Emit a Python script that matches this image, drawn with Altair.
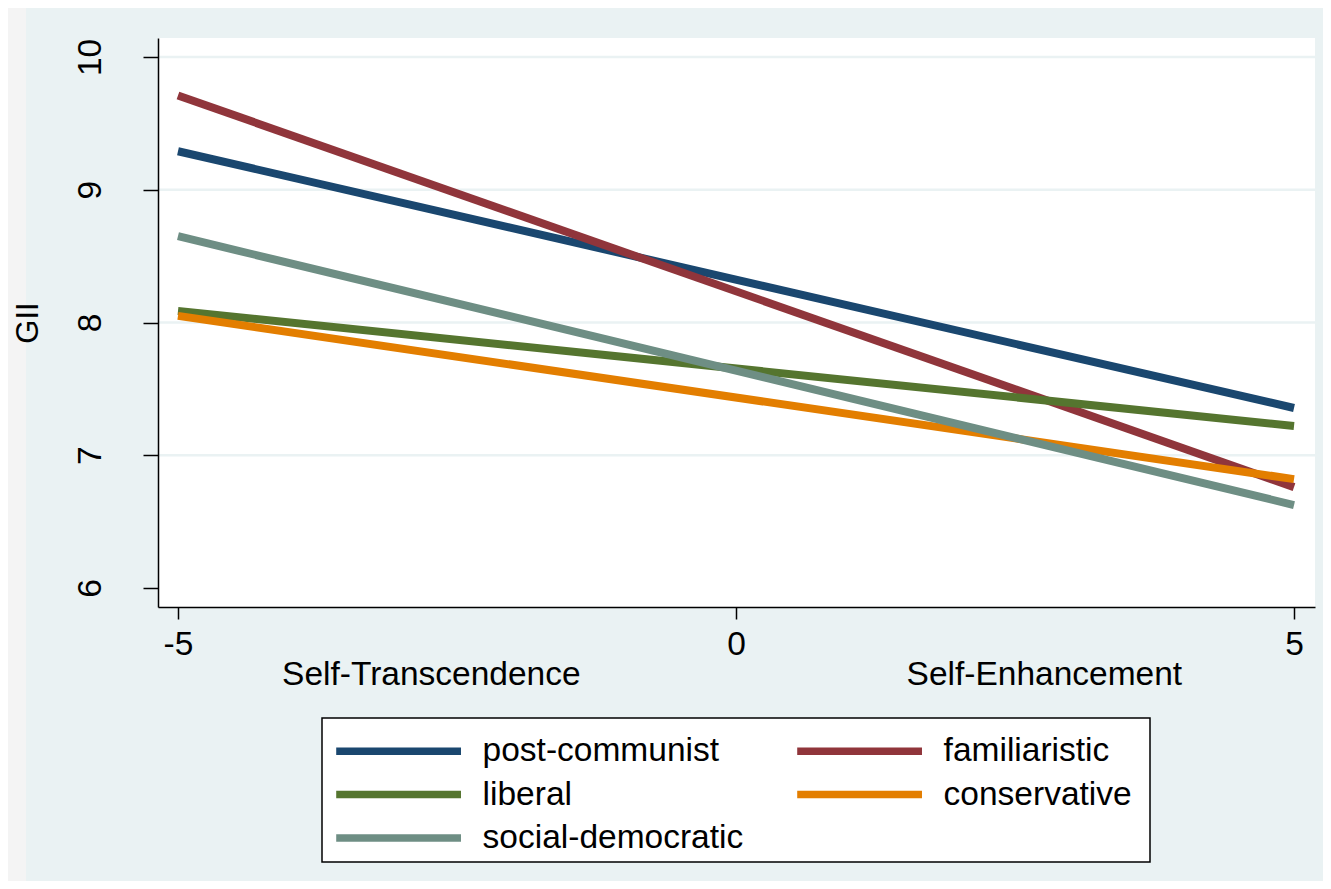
import altair as alt
import pandas as pd

# ---- data ----
series = ["post-communist", "familiaristic", "liberal", "conservative", "social-democratic"]
colors = ["#1a476f", "#90353b", "#55752f", "#e37e00", "#6e8e84"]
x_vals = [-5, 5]
y_post_communist = [9.29, 7.356]
y_familiaristic = [9.71, 6.76]
y_liberal = [8.087, 7.22]
y_conservative = [8.05, 6.82]
y_social_democratic = [8.65, 6.625]

grid_vals = [7, 8, 9, 10]
y_ticks = [6, 7, 8, 9, 10]
x_ticks = [-5, 0, 5]
side_labels = ["Self-Transcendence", "Self-Enhancement"]
side_x = [-2.73, 2.763]

FONT = "Liberation Sans"
FS = 33.5
BG = "#EAF2F3"
W, H = 1157, 569

ys = [y_post_communist, y_familiaristic, y_liberal, y_conservative, y_social_democratic]
rows = []
for k, (name, yv) in enumerate(zip(series, ys)):
    for xv, yy in zip(x_vals, yv):
        rows.append({"regime": name, "x": xv, "y": yy, "k": k})
df = pd.DataFrame(rows)

xscale = alt.Scale(domain=[-5.179, 5.188], nice=False, zero=False)
yscale = alt.Scale(domain=[5.857, 10.143], nice=False, zero=False)

one = pd.DataFrame({"a": [0]})

graph_bg = alt.Chart(one).mark_rect(color=BG).encode(
    x=alt.value(-132), x2=alt.value(W + 8), y=alt.value(-32), y2=alt.value(H + 274)
)
plot_bg = alt.Chart(one).mark_rect(color="white").encode(
    x=alt.value(0), x2=alt.value(W), y=alt.value(0), y2=alt.value(H)
)
legend_box = alt.Chart(one).mark_rect(color="white", stroke="black", strokeWidth=1.5).encode(
    x=alt.value(164), x2=alt.value(992), y=alt.value(680), y2=alt.value(824)
)

xaxis = alt.Axis(values=x_ticks, title=None, grid=False, tickSize=12, zindex=2,
                 labelPadding=9, domainColor="black", domainWidth=1.5,
                 tickColor="black", tickWidth=1.5, labelFontSize=FS,
                 labelFont=FONT, labelColor="black", labelFlush=False,
                 labelExpr="replace(datum.label, '\u2212', '-')")
yaxis = alt.Axis(values=y_ticks, title="GII", grid=False, tickSize=15, zindex=2,
                 labelAngle=270, labelAlign="center", labelBaseline="alphabetic",
                 labelPadding=43, domainColor="black", domainWidth=1.5,
                 tickColor="black", tickWidth=1.5, labelFontSize=FS,
                 labelFont=FONT, labelColor="black", labelFlush=False,
                 titleFont=FONT, titleFontSize=31, titleFontWeight="normal",
                 titleColor="black", titleAngle=270, titleAlign="center",
                 titleBaseline="alphabetic", titleX=-121, titleY=H / 2)

grid = alt.Chart(pd.DataFrame({"g": grid_vals})).mark_rule(color=BG, strokeWidth=2.5).encode(
    y=alt.Y("g:Q", scale=yscale, axis=yaxis)
)

lines = alt.Chart(df).mark_line(strokeWidth=8, strokeCap="butt").encode(
    x=alt.X("x:Q", scale=xscale, axis=xaxis),
    y=alt.Y("y:Q", scale=yscale, axis=yaxis),
    color=alt.Color("regime:N", sort=series,
                    scale=alt.Scale(domain=series, range=colors),
                    legend=alt.Legend(title=None, orient="none", direction="horizontal",
                                      legendX=215.6, legendY=688, padding=0,
                                      columns=2, columnPadding=38, rowPadding=1.5,
                                      gridAlign="each",
                                      symbolType="M-3,0H3", symbolSize=1730,
                                      symbolStrokeWidth=7.5, symbolOpacity=1,
                                      labelFontSize=FS, labelFont=FONT,
                                      labelColor="black", labelOffset=59,
                                      labelLimit=500)),
    order=alt.Order("x:Q"),
)

side = alt.Chart(pd.DataFrame({"t": side_labels, "x": side_x})).mark_text(
    font=FONT, fontSize=FS, color="black", align="center", baseline="alphabetic"
).encode(
    x=alt.X("x:Q", scale=xscale, axis=xaxis), y=alt.value(647), text="t:N"
)

chart = alt.layer(graph_bg, plot_bg, legend_box, grid, lines, side).properties(
    width=W, height=H,
    autosize=alt.AutoSizeParams(type="none"),
    padding={"left": 150, "top": 30, "right": 8, "bottom": 274},
).configure(background="#F4F4F4").configure_view(stroke=None)

chart.save("out.html", embed_options={"renderer": "svg", "actions": False})
